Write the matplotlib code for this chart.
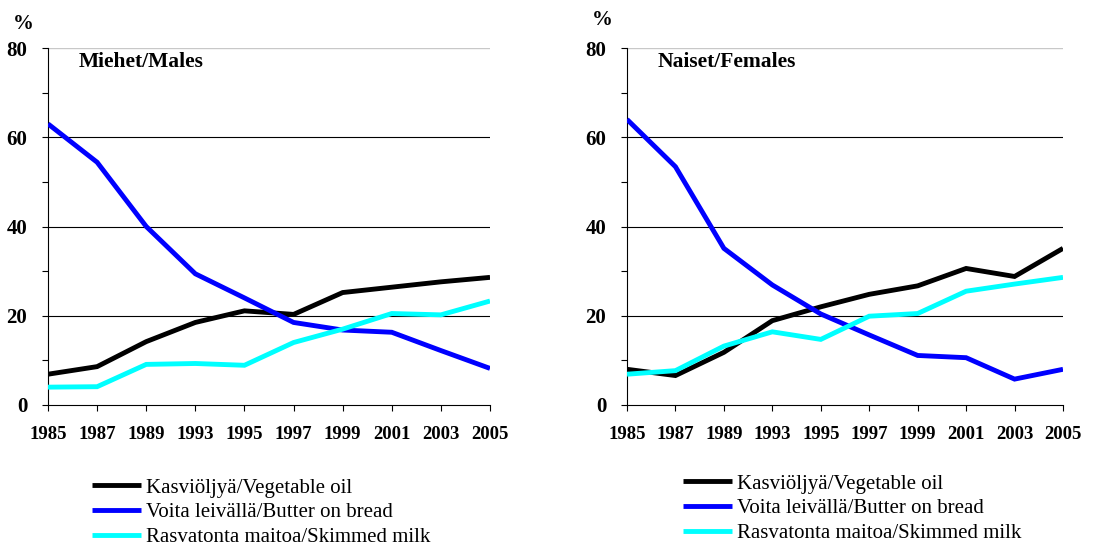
import matplotlib
matplotlib.use("Agg")
import matplotlib.pyplot as plt
import numpy as np

years = ["1985", "1987", "1989", "1993", "1995", "1997", "1999", "2001", "2003", "2005"]
labels = ["Kasviöljyä/Vegetable oil", "Voita leivällä/Butter on bread",
          "Rasvatonta maitoa/Skimmed milk"]
colors = ["#000000", "#0000ff", "#00ffff"]

males_oil = [6.9, 8.6, 14.2, 18.5, 21.1, 20.3, 25.2, 26.4, 27.6, 28.6]
males_butter = [63.0, 54.4, 40.0, 29.4, 24.0, 18.5, 16.8, 16.3, 12.2, 8.2]
males_milk = [4.0, 4.1, 9.1, 9.3, 8.9, 14.0, 17.0, 20.5, 20.2, 23.3]

females_oil = [8.0, 6.6, 11.8, 18.9, 22.0, 24.8, 26.7, 30.6, 28.8, 35.1]
females_butter = [64.0, 53.4, 35.1, 26.9, 20.4, 15.7, 11.1, 10.6, 5.8, 8.0]
females_milk = [6.9, 7.7, 13.2, 16.4, 14.7, 19.9, 20.5, 25.5, 27.1, 28.6]

plt.rcParams["font.family"] = ["Liberation Serif", "DejaVu Serif"]

W, H = 1106, 548
fig = plt.figure(figsize=(W / 100, H / 100), dpi=100)


def panel(rect, series, title, pct_xy, leg_xy):
    ax = fig.add_axes(rect)
    x = np.arange(len(years))
    for vals, c, lbl in zip(series, colors, labels):
        ax.plot(x, vals, color=c, lw=3.5, label=lbl, solid_capstyle="butt",
                solid_joinstyle="miter", zorder=3)
    for v in (20, 40, 60):
        ax.axhline(v, color="black", lw=0.8, zorder=1)
    ax.axhline(80, color="#c8c8c8", lw=1.0, zorder=1)
    ax.set_xlim(0, len(years) - 1)
    ax.set_ylim(0, 80)
    ax.set_xticks(x)
    ax.set_xticklabels(years, fontsize=13.5, fontweight="bold")
    ax.set_yticks([0, 20, 40, 60, 80])
    ax.set_yticklabels(["0", "20", "40", "60", "80"], fontsize=15, fontweight="bold")
    ax.set_yticks([10, 30, 50, 70], minor=True)
    ax.tick_params(axis="both", which="both", direction="out", length=4, width=0.8)
    ax.tick_params(axis="x", pad=11)
    ax.tick_params(axis="y", pad=11)
    for s in ("top", "right"):
        ax.spines[s].set_visible(False)
    for s in ("left", "bottom"):
        ax.spines[s].set_linewidth(0.8)
    ax.text(0.07, 0.99, title, transform=ax.transAxes, fontsize=15.5,
            fontweight="bold", va="top", ha="left")
    fig.text(pct_xy[0] / W, 1 - pct_xy[1] / H, "%", fontsize=15,
             fontweight="bold", ha="left", va="center")
    fig.legend(*ax.get_legend_handles_labels(), loc="upper left",
               bbox_to_anchor=(leg_xy[0] / W, 1 - leg_xy[1] / H),
               frameon=False, fontsize=15, handlelength=2.35,
               handletextpad=0.25, labelspacing=0.25, borderpad=0,
               borderaxespad=0)
    return ax


panel([48 / W, 143 / H, 442 / W, 357 / H],
      [males_oil, males_butter, males_milk], "Miehet/Males", (13, 24), (92, 478))
panel([627 / W, 143 / H, 436 / W, 357 / H],
      [females_oil, females_butter, females_milk], "Naiset/Females", (592, 20), (683, 474))

fig.savefig("out.png", dpi=100)
